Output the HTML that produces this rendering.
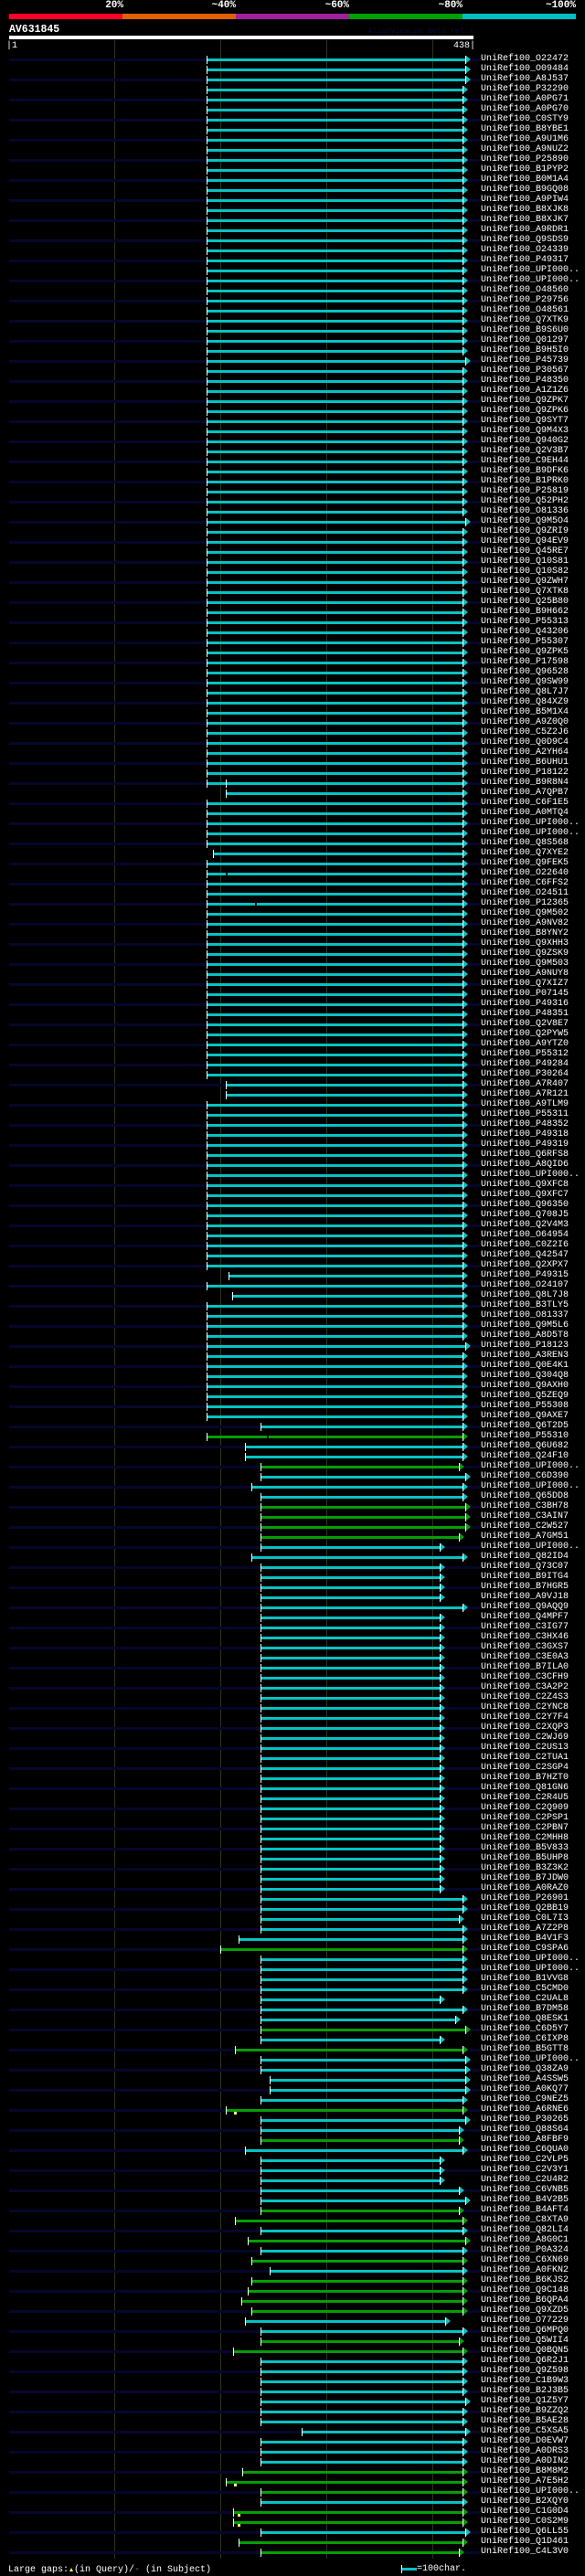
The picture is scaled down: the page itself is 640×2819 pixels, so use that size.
<!DOCTYPE html>
<html><head><meta charset="utf-8"><style>
*{margin:0;padding:0}
html,body{width:640px;height:2819px;background:#000;overflow:hidden}
body{position:relative;font-family:"Liberation Mono","DejaVu Sans Mono",monospace;color:#fff}
.a{position:absolute}
.pl{font-weight:bold;font-size:11px;line-height:11px;top:1px;text-align:right;white-space:pre}
.cb{top:15px;height:6px;width:124px}
.gl{top:44px;height:2756px;width:1px;background:#33331a}
#rows{position:absolute;left:0;top:60px;width:640px}
.r{position:relative;height:11px;line-height:9px;font-size:10px;padding-left:526px;white-space:nowrap;color:#fff}
.r:nth-child(odd)::before{content:"";position:absolute;left:10px;top:4px;width:516px;height:3px;background:#06062c}
.b{--c:#06c3c3;position:absolute;top:1px;height:9px;left:226px;width:281px;box-sizing:border-box;border-left:1px solid #fff;border-right:1px solid #fff;background:linear-gradient(transparent 3px,var(--c) 3px,var(--c) 6px,transparent 6px)}
.b::after{content:"";position:absolute;left:calc(100% + 1px);top:0;width:0;height:0;border-left:5px solid var(--c);border-top:4px solid transparent;border-bottom:4px solid transparent}
.g{--c:#079d07}
.e10{width:284px}
.p{left:285px;width:197px}
.q{left:285px;width:222px}
.q10{left:285px;width:225px}
.q03{left:285px;width:218px}
.t{position:absolute;top:1px;width:1px;height:9px;background:#fff}
.k{position:absolute;top:4px;width:2px;height:3px;background:#000}
.y{position:absolute;top:7px;width:3px;height:3px;background:#ffff66}
</style></head><body>

<div class="a cb" style="left:10px;background:#ff0028"></div>
<div class="a cb" style="left:134px;background:#e06000"></div>
<div class="a cb" style="left:258px;background:#a020a0"></div>
<div class="a cb" style="left:382px;background:#00a000"></div>
<div class="a cb" style="left:506px;background:#00c0c0"></div>
<div class="a pl" style="left:0;width:135px">20%</div>
<div class="a pl" style="left:0;width:258px">~40%</div>
<div class="a pl" style="left:0;width:382px">~60%</div>
<div class="a pl" style="left:0;width:506px">~80%</div>
<div class="a pl" style="left:0;width:630px">~100%</div>

<div class="a" style="left:10px;top:27px;font-weight:bold;font-size:11.5px;line-height:12px">AV631845</div>
<div class="a" style="left:300px;width:218px;top:30px;font-size:8.4px;line-height:9px;text-align:right;color:#0a0a3c">AlignView.pm Beta rel.7</div>
<div class="a" style="left:10px;top:39px;width:508px;height:4px;background:#fff"></div>
<div class="a" style="left:7px;top:45px;font-size:10px;line-height:11px">|1</div>
<div class="a" style="left:496px;top:45px;font-size:10px;line-height:11px">438|</div>

<div class="a gl" style="left:125px"></div>
<div class="a gl" style="left:241px"></div>
<div class="a gl" style="left:357px"></div>
<div class="a gl" style="left:473px"></div>

<div id="rows">
<div class="r"><b class="b e10"></b>UniRef100_O22472</div>
<div class="r"><b class="b e10"></b>UniRef100_O09484</div>
<div class="r"><b class="b e10"></b>UniRef100_A8J537</div>
<div class="r"><b class="b"></b>UniRef100_P32290</div>
<div class="r"><b class="b"></b>UniRef100_A0PG71</div>
<div class="r"><b class="b"></b>UniRef100_A0PG70</div>
<div class="r"><b class="b"></b>UniRef100_C0STY9</div>
<div class="r"><b class="b"></b>UniRef100_B8YBE1</div>
<div class="r"><b class="b"></b>UniRef100_A9U1M6</div>
<div class="r"><b class="b"></b>UniRef100_A9NUZ2</div>
<div class="r"><b class="b"></b>UniRef100_P25890</div>
<div class="r"><b class="b"></b>UniRef100_B1PYP2</div>
<div class="r"><b class="b"></b>UniRef100_B0M1A4</div>
<div class="r"><b class="b"></b>UniRef100_B9GQ08</div>
<div class="r"><b class="b"></b>UniRef100_A9PIW4</div>
<div class="r"><b class="b"></b>UniRef100_B8XJK8</div>
<div class="r"><b class="b"></b>UniRef100_B8XJK7</div>
<div class="r"><b class="b"></b>UniRef100_A9RDR1</div>
<div class="r"><b class="b"></b>UniRef100_Q9SDS9</div>
<div class="r"><b class="b"></b>UniRef100_O24339</div>
<div class="r"><b class="b"></b>UniRef100_P49317</div>
<div class="r"><b class="b"></b>UniRef100_UPI000..</div>
<div class="r"><b class="b"></b>UniRef100_UPI000..</div>
<div class="r"><b class="b"></b>UniRef100_O48560</div>
<div class="r"><b class="b"></b>UniRef100_P29756</div>
<div class="r"><b class="b"></b>UniRef100_O48561</div>
<div class="r"><b class="b"></b>UniRef100_Q7XTK9</div>
<div class="r"><b class="b"></b>UniRef100_B9S6U0</div>
<div class="r"><b class="b"></b>UniRef100_Q01297</div>
<div class="r"><b class="b"></b>UniRef100_B9H5I0</div>
<div class="r"><b class="b e10"></b>UniRef100_P45739</div>
<div class="r"><b class="b"></b>UniRef100_P30567</div>
<div class="r"><b class="b"></b>UniRef100_P48350</div>
<div class="r"><b class="b"></b>UniRef100_A1Z1Z6</div>
<div class="r"><b class="b"></b>UniRef100_Q9ZPK7</div>
<div class="r"><b class="b"></b>UniRef100_Q9ZPK6</div>
<div class="r"><b class="b"></b>UniRef100_Q9SYT7</div>
<div class="r"><b class="b"></b>UniRef100_Q9M4X3</div>
<div class="r"><b class="b"></b>UniRef100_Q940G2</div>
<div class="r"><b class="b"></b>UniRef100_Q2V3B7</div>
<div class="r"><b class="b"></b>UniRef100_C9EH44</div>
<div class="r"><b class="b"></b>UniRef100_B9DFK6</div>
<div class="r"><b class="b"></b>UniRef100_B1PRK0</div>
<div class="r"><b class="b"></b>UniRef100_P25819</div>
<div class="r"><b class="b"></b>UniRef100_Q52PH2</div>
<div class="r"><b class="b"></b>UniRef100_O81336</div>
<div class="r"><b class="b e10"></b>UniRef100_Q9M5O4</div>
<div class="r"><b class="b"></b>UniRef100_Q9ZRI9</div>
<div class="r"><b class="b"></b>UniRef100_Q94EV9</div>
<div class="r"><b class="b"></b>UniRef100_Q45RE7</div>
<div class="r"><b class="b"></b>UniRef100_Q10S81</div>
<div class="r"><b class="b"></b>UniRef100_Q10S82</div>
<div class="r"><b class="b"></b>UniRef100_Q9ZWH7</div>
<div class="r"><b class="b"></b>UniRef100_Q7XTK8</div>
<div class="r"><b class="b"></b>UniRef100_Q25B80</div>
<div class="r"><b class="b"></b>UniRef100_B9H662</div>
<div class="r"><b class="b"></b>UniRef100_P55313</div>
<div class="r"><b class="b"></b>UniRef100_Q43206</div>
<div class="r"><b class="b"></b>UniRef100_P55307</div>
<div class="r"><b class="b"></b>UniRef100_Q9ZPK5</div>
<div class="r"><b class="b"></b>UniRef100_P17598</div>
<div class="r"><b class="b"></b>UniRef100_Q96528</div>
<div class="r"><b class="b"></b>UniRef100_Q9SW99</div>
<div class="r"><b class="b"></b>UniRef100_Q8L7J7</div>
<div class="r"><b class="b"></b>UniRef100_Q84XZ9</div>
<div class="r"><b class="b"></b>UniRef100_B5M1X4</div>
<div class="r"><b class="b"></b>UniRef100_A9Z0Q0</div>
<div class="r"><b class="b"></b>UniRef100_C5Z2J6</div>
<div class="r"><b class="b"></b>UniRef100_Q0D9C4</div>
<div class="r"><b class="b"></b>UniRef100_A2YH64</div>
<div class="r"><b class="b"></b>UniRef100_B6UHU1</div>
<div class="r"><b class="b"></b>UniRef100_P18122</div>
<div class="r"><b class="b"></b><i class="t" style="left:247px"></i>UniRef100_B9R8N4</div>
<div class="r"><b class="b" style="left:247px;width:260px"></b>UniRef100_A7QPB7</div>
<div class="r"><b class="b"></b>UniRef100_C6F1E5</div>
<div class="r"><b class="b"></b>UniRef100_A0MTQ4</div>
<div class="r"><b class="b"></b>UniRef100_UPI000..</div>
<div class="r"><b class="b"></b>UniRef100_UPI000..</div>
<div class="r"><b class="b"></b>UniRef100_Q8S568</div>
<div class="r"><b class="b" style="left:233px;width:274px"></b>UniRef100_Q7XYE2</div>
<div class="r"><b class="b"></b>UniRef100_Q9FEK5</div>
<div class="r"><b class="b"></b><i class="k" style="left:247px"></i>UniRef100_O22640</div>
<div class="r"><b class="b"></b>UniRef100_C6FFS2</div>
<div class="r"><b class="b"></b>UniRef100_O24511</div>
<div class="r"><b class="b"></b><i class="k" style="left:279px"></i>UniRef100_P12365</div>
<div class="r"><b class="b"></b>UniRef100_Q9M502</div>
<div class="r"><b class="b"></b>UniRef100_A9NV82</div>
<div class="r"><b class="b"></b>UniRef100_B8YNY2</div>
<div class="r"><b class="b"></b>UniRef100_Q9XHH3</div>
<div class="r"><b class="b"></b>UniRef100_Q9ZSK9</div>
<div class="r"><b class="b"></b>UniRef100_Q9M503</div>
<div class="r"><b class="b"></b>UniRef100_A9NUY8</div>
<div class="r"><b class="b"></b>UniRef100_Q7XIZ7</div>
<div class="r"><b class="b"></b>UniRef100_P07145</div>
<div class="r"><b class="b"></b>UniRef100_P49316</div>
<div class="r"><b class="b"></b>UniRef100_P48351</div>
<div class="r"><b class="b"></b>UniRef100_Q2V8E7</div>
<div class="r"><b class="b"></b>UniRef100_Q2PYW5</div>
<div class="r"><b class="b"></b>UniRef100_A9YTZ0</div>
<div class="r"><b class="b"></b>UniRef100_P55312</div>
<div class="r"><b class="b"></b>UniRef100_P49284</div>
<div class="r"><b class="b"></b>UniRef100_P30264</div>
<div class="r"><b class="b" style="left:247px;width:260px"></b>UniRef100_A7R407</div>
<div class="r"><b class="b" style="left:247px;width:260px"></b>UniRef100_A7R121</div>
<div class="r"><b class="b"></b>UniRef100_A9TLM9</div>
<div class="r"><b class="b"></b>UniRef100_P55311</div>
<div class="r"><b class="b"></b>UniRef100_P48352</div>
<div class="r"><b class="b"></b>UniRef100_P49318</div>
<div class="r"><b class="b"></b>UniRef100_P49319</div>
<div class="r"><b class="b"></b>UniRef100_Q6RFS8</div>
<div class="r"><b class="b"></b>UniRef100_A8QID6</div>
<div class="r"><b class="b"></b>UniRef100_UPI000..</div>
<div class="r"><b class="b"></b>UniRef100_Q9XFC8</div>
<div class="r"><b class="b"></b>UniRef100_Q9XFC7</div>
<div class="r"><b class="b"></b>UniRef100_Q96350</div>
<div class="r"><b class="b"></b>UniRef100_Q708J5</div>
<div class="r"><b class="b"></b>UniRef100_Q2V4M3</div>
<div class="r"><b class="b"></b>UniRef100_O64954</div>
<div class="r"><b class="b"></b>UniRef100_C0Z2I6</div>
<div class="r"><b class="b"></b>UniRef100_Q42547</div>
<div class="r"><b class="b"></b>UniRef100_Q2XPX7</div>
<div class="r"><b class="b" style="left:250px;width:257px"></b>UniRef100_P49315</div>
<div class="r"><b class="b"></b>UniRef100_O24107</div>
<div class="r"><b class="b" style="left:254px;width:253px"></b>UniRef100_Q8L7J8</div>
<div class="r"><b class="b"></b>UniRef100_B3TLY5</div>
<div class="r"><b class="b"></b>UniRef100_O81337</div>
<div class="r"><b class="b"></b>UniRef100_Q9M5L6</div>
<div class="r"><b class="b"></b>UniRef100_A8D5T8</div>
<div class="r"><b class="b e10"></b>UniRef100_P18123</div>
<div class="r"><b class="b"></b>UniRef100_A3REN3</div>
<div class="r"><b class="b"></b>UniRef100_Q0E4K1</div>
<div class="r"><b class="b"></b>UniRef100_Q304Q8</div>
<div class="r"><b class="b"></b>UniRef100_Q9AXH0</div>
<div class="r"><b class="b"></b>UniRef100_Q5ZEQ9</div>
<div class="r"><b class="b"></b>UniRef100_P55308</div>
<div class="r"><b class="b"></b>UniRef100_Q9AXE7</div>
<div class="r"><b class="b q"></b>UniRef100_Q6T2D5</div>
<div class="r"><b class="b g"></b><i class="k" style="left:292px"></i>UniRef100_P55310</div>
<div class="r"><b class="b" style="left:268px;width:239px"></b>UniRef100_Q6U682</div>
<div class="r"><b class="b" style="left:268px;width:239px"></b>UniRef100_Q24F10</div>
<div class="r"><b class="b g q03"></b>UniRef100_UPI000..</div>
<div class="r"><b class="b q10"></b>UniRef100_C6D390</div>
<div class="r"><b class="b" style="left:275px;width:232px"></b>UniRef100_UPI000..</div>
<div class="r"><b class="b q"></b>UniRef100_Q65DD8</div>
<div class="r"><b class="b g q10"></b>UniRef100_C3BH78</div>
<div class="r"><b class="b g q10"></b>UniRef100_C3AIN7</div>
<div class="r"><b class="b g q10"></b>UniRef100_C2W527</div>
<div class="r"><b class="b g q03"></b>UniRef100_A7GM51</div>
<div class="r"><b class="b p"></b>UniRef100_UPI000..</div>
<div class="r"><b class="b" style="left:275px;width:232px"></b>UniRef100_Q82ID4</div>
<div class="r"><b class="b p"></b>UniRef100_Q73C07</div>
<div class="r"><b class="b p"></b>UniRef100_B9ITG4</div>
<div class="r"><b class="b p"></b>UniRef100_B7HGR5</div>
<div class="r"><b class="b p"></b>UniRef100_A9VJ18</div>
<div class="r"><b class="b q"></b>UniRef100_Q9AQQ9</div>
<div class="r"><b class="b p"></b>UniRef100_Q4MPF7</div>
<div class="r"><b class="b p"></b>UniRef100_C3IG77</div>
<div class="r"><b class="b p"></b>UniRef100_C3HX46</div>
<div class="r"><b class="b p"></b>UniRef100_C3GXS7</div>
<div class="r"><b class="b p"></b>UniRef100_C3E0A3</div>
<div class="r"><b class="b p"></b>UniRef100_B7ILA0</div>
<div class="r"><b class="b p"></b>UniRef100_C3CFH9</div>
<div class="r"><b class="b p"></b>UniRef100_C3A2P2</div>
<div class="r"><b class="b p"></b>UniRef100_C2Z4S3</div>
<div class="r"><b class="b p"></b>UniRef100_C2YNC8</div>
<div class="r"><b class="b p"></b>UniRef100_C2Y7F4</div>
<div class="r"><b class="b p"></b>UniRef100_C2XQP3</div>
<div class="r"><b class="b p"></b>UniRef100_C2WJ69</div>
<div class="r"><b class="b p"></b>UniRef100_C2US13</div>
<div class="r"><b class="b p"></b>UniRef100_C2TUA1</div>
<div class="r"><b class="b p"></b>UniRef100_C2SGP4</div>
<div class="r"><b class="b p"></b>UniRef100_B7HZT0</div>
<div class="r"><b class="b p"></b>UniRef100_Q81GN6</div>
<div class="r"><b class="b p"></b>UniRef100_C2R4U5</div>
<div class="r"><b class="b p"></b>UniRef100_C2Q909</div>
<div class="r"><b class="b p"></b>UniRef100_C2PSP1</div>
<div class="r"><b class="b p"></b>UniRef100_C2PBN7</div>
<div class="r"><b class="b p"></b>UniRef100_C2MHH8</div>
<div class="r"><b class="b p"></b>UniRef100_B5V833</div>
<div class="r"><b class="b p"></b>UniRef100_B5UHP8</div>
<div class="r"><b class="b p"></b>UniRef100_B3Z3K2</div>
<div class="r"><b class="b p"></b>UniRef100_B7JDW0</div>
<div class="r"><b class="b p"></b>UniRef100_A0RAZ0</div>
<div class="r"><b class="b q"></b>UniRef100_P26901</div>
<div class="r"><b class="b q"></b>UniRef100_Q2BB19</div>
<div class="r"><b class="b q03"></b>UniRef100_C0L7I3</div>
<div class="r"><b class="b q"></b>UniRef100_A7Z2P8</div>
<div class="r"><b class="b" style="left:261px;width:246px"></b>UniRef100_B4V1F3</div>
<div class="r"><b class="b g" style="left:241px;width:266px"></b>UniRef100_C9SPA6</div>
<div class="r"><b class="b q"></b>UniRef100_UPI000..</div>
<div class="r"><b class="b q"></b>UniRef100_UPI000..</div>
<div class="r"><b class="b q"></b>UniRef100_B1VVG8</div>
<div class="r"><b class="b q"></b>UniRef100_C5CMD0</div>
<div class="r"><b class="b p"></b>UniRef100_C2UAL8</div>
<div class="r"><b class="b q"></b>UniRef100_B7DM58</div>
<div class="r"><b class="b" style="left:285px;width:214px"></b>UniRef100_Q8ESK1</div>
<div class="r"><b class="b g q10"></b>UniRef100_C6D5Y7</div>
<div class="r"><b class="b p"></b>UniRef100_C6IXP8</div>
<div class="r"><b class="b g" style="left:257px;width:250px"></b>UniRef100_B5GTT8</div>
<div class="r"><b class="b q10"></b>UniRef100_UPI000..</div>
<div class="r"><b class="b q10"></b>UniRef100_Q38ZA9</div>
<div class="r"><b class="b" style="left:295px;width:215px"></b>UniRef100_A4SSW5</div>
<div class="r"><b class="b" style="left:295px;width:215px"></b>UniRef100_A0KQ77</div>
<div class="r"><b class="b q"></b>UniRef100_C9NEZ5</div>
<div class="r"><b class="b g" style="left:247px;width:260px"></b><i class="y" style="left:256px"></i>UniRef100_A6RNE6</div>
<div class="r"><b class="b q10"></b>UniRef100_P30265</div>
<div class="r"><b class="b q03"></b>UniRef100_Q88S64</div>
<div class="r"><b class="b g q03"></b>UniRef100_A8FBF9</div>
<div class="r"><b class="b" style="left:268px;width:239px"></b>UniRef100_C6QUA0</div>
<div class="r"><b class="b p"></b>UniRef100_C2VLP5</div>
<div class="r"><b class="b p"></b>UniRef100_C2V3Y1</div>
<div class="r"><b class="b p"></b>UniRef100_C2U4R2</div>
<div class="r"><b class="b q03"></b>UniRef100_C6VNB5</div>
<div class="r"><b class="b q10"></b>UniRef100_B4V2B5</div>
<div class="r"><b class="b g q03"></b>UniRef100_B4AFT4</div>
<div class="r"><b class="b g" style="left:257px;width:250px"></b>UniRef100_C8XTA9</div>
<div class="r"><b class="b q"></b>UniRef100_Q82LI4</div>
<div class="r"><b class="b g" style="left:271px;width:239px"></b>UniRef100_A8G0C1</div>
<div class="r"><b class="b q"></b>UniRef100_P0A324</div>
<div class="r"><b class="b g" style="left:275px;width:232px"></b>UniRef100_C6XN69</div>
<div class="r"><b class="b" style="left:295px;width:212px"></b>UniRef100_A0FKN2</div>
<div class="r"><b class="b g" style="left:275px;width:232px"></b>UniRef100_B6KJS2</div>
<div class="r"><b class="b g" style="left:271px;width:236px"></b>UniRef100_Q9C148</div>
<div class="r"><b class="b g" style="left:264px;width:243px"></b>UniRef100_B6QPA4</div>
<div class="r"><b class="b g" style="left:275px;width:232px"></b>UniRef100_Q9XZD5</div>
<div class="r"><b class="b" style="left:268px;width:220px"></b>UniRef100_O77229</div>
<div class="r"><b class="b q"></b>UniRef100_Q6MPQ0</div>
<div class="r"><b class="b g q03"></b>UniRef100_Q5WII4</div>
<div class="r"><b class="b g" style="left:255px;width:252px"></b>UniRef100_Q0BQN5</div>
<div class="r"><b class="b q"></b>UniRef100_Q6R2J1</div>
<div class="r"><b class="b q"></b>UniRef100_Q9Z598</div>
<div class="r"><b class="b q"></b>UniRef100_C1B9W3</div>
<div class="r"><b class="b q"></b>UniRef100_B2J3B5</div>
<div class="r"><b class="b q10"></b>UniRef100_Q1Z5Y7</div>
<div class="r"><b class="b q"></b>UniRef100_B9ZZQ2</div>
<div class="r"><b class="b q"></b>UniRef100_B5AE28</div>
<div class="r"><b class="b" style="left:330px;width:180px"></b>UniRef100_C5XSA5</div>
<div class="r"><b class="b q"></b>UniRef100_D0EVW7</div>
<div class="r"><b class="b q"></b>UniRef100_A0DRS3</div>
<div class="r"><b class="b q"></b>UniRef100_A0DIN2</div>
<div class="r"><b class="b g" style="left:265px;width:242px"></b>UniRef100_B8M8M2</div>
<div class="r"><b class="b g" style="left:247px;width:260px"></b><i class="y" style="left:256px"></i>UniRef100_A7E5H2</div>
<div class="r"><b class="b g q"></b>UniRef100_UPI000..</div>
<div class="r"><b class="b q"></b>UniRef100_B2XQY0</div>
<div class="r"><b class="b g" style="left:255px;width:252px"></b><i class="y" style="left:260px"></i>UniRef100_C1G0D4</div>
<div class="r"><b class="b g" style="left:255px;width:252px"></b><i class="y" style="left:260px"></i>UniRef100_C0S2M9</div>
<div class="r"><b class="b q10"></b>UniRef100_Q6LL55</div>
<div class="r"><b class="b g" style="left:261px;width:246px"></b>UniRef100_Q1D461</div>
<div class="r"><b class="b g q03"></b>UniRef100_C4L3V0</div>
</div>

<div class="a" style="left:9px;top:2806px;font-size:10px;line-height:11px;white-space:pre">Large gaps:<span style="display:inline-block;width:6px;height:8px;position:relative"><span style="position:absolute;left:1px;top:4px;width:0;height:0;border-left:2px solid transparent;border-right:2px solid transparent;border-bottom:4px solid #ffff66"></span></span>(in Query)/<span style="color:#06c3c3">-</span> (in Subject)</div>
<div class="a" style="left:439px;top:2807px;width:1px;height:9px;background:#fff"></div>
<div class="a" style="left:440px;top:2810px;width:16px;height:3px;background:#06c3c3"></div>
<div class="a" style="left:456px;top:2806px;font-size:10px;line-height:11px;white-space:pre">=100char.</div>

</body></html>
